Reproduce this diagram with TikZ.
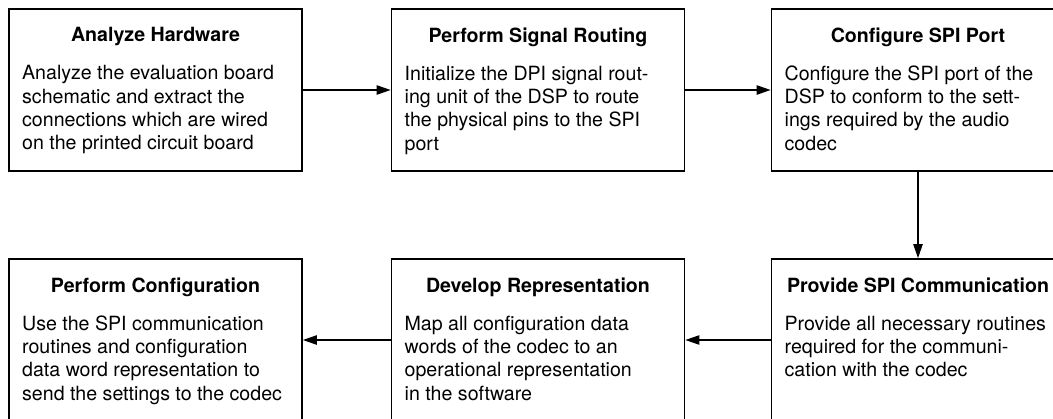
\documentclass[tikz,border=0pt]{standalone}
\usepackage{fontspec}
\setmainfont{TeX Gyre Heros}
\usetikzlibrary{arrows.meta,positioning}

\newcommand{\stepbody}[2]{\parbox[c][93.5pt][t]{200pt}{\centering\textbf{#1}\par\vspace{11pt}\raggedright #2\par}}

\begin{document}
\begin{tikzpicture}[x=0.75pt, y=-0.75pt,
    stepbox/.style={rectangle, draw, line width=1.3pt, minimum width=219.75pt, minimum height=121.5pt, inner sep=0pt,
        font=\fontsize{14.7}{17.5}\selectfont},
    flow/.style={-{Triangle[length=10.5pt,width=7pt]}, line width=1.1pt}]
    \useasboundingbox (0,0) rectangle (1053,418);
    \clip (0,0) rectangle (1053,418);

    % Top row
    \node[stepbox] (hw) at (155.5, 90) {\stepbody{Analyze Hardware}{Analyze the evaluation board\\ schematic and extract the\\ connections which are wired\\ on the printed circuit board}};
    \node[stepbox] (route) at (538, 90) {\stepbody{Perform Signal Routing}{Initialize the DPI signal rout-\\ ing unit of the DSP to route\\ the physical pins to the SPI\\ port}};
    \node[stepbox] (spi) at (918, 90) {\stepbody{Configure SPI Port}{Configure the SPI port of the\\ DSP to conform to the sett-\\ ings required by the audio\\ codec}};

    % Bottom row
    \node[stepbox] (comm) at (918, 340) {\stepbody{Provide SPI Communication}{Provide all necessary routines\\ required for the communi-\\ cation with the codec}};
    \node[stepbox] (repr) at (538, 340) {\stepbody{Develop Representation}{Map all configuration data\\ words of the codec to an\\ operational representation\\ in the software}};
    \node[stepbox] (conf) at (155.5, 340) {\stepbody{Perform Configuration}{Use the SPI communication\\ routines and configuration\\ data word representation to\\ send the settings to the codec}};

    \draw[flow] (hw) -- (route);
    \draw[flow] (route) -- (spi);
    \draw[flow] (spi) -- (comm);
    \draw[flow] (comm) -- (repr);
    \draw[flow] (repr) -- (conf);
\end{tikzpicture}
\end{document}
